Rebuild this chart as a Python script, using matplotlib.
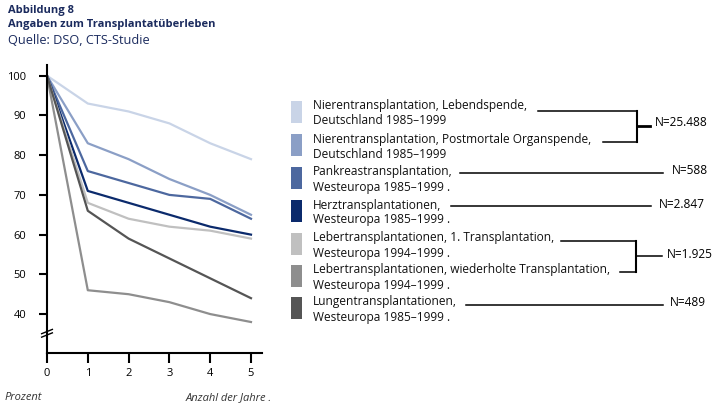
import matplotlib
matplotlib.use("Agg")
import matplotlib.pyplot as plt
import numpy as np

plt.rcParams['font.family'] = ['Open Sans', 'DejaVu Sans']

years = [0, 1, 2, 3, 4, 5]
niere_lebend = [100, 93, 91, 88, 83, 79]
niere_postmortal = [100, 83, 79, 74, 70, 65]
pankreas = [100, 76, 73, 70, 69, 64]
herz = [100, 71, 68, 65, 62, 60]
leber_erst = [100, 68, 64, 62, 61, 59]
leber_wiederholt = [100, 46, 45, 43, 40, 38]
lunge = [100, 66, 59, 54, 49, 44]

series = [niere_lebend, niere_postmortal, pankreas, herz, leber_erst, leber_wiederholt, lunge]
colors = ['#c9d4e7', '#8b9fc6', '#4d689f', '#0b2a6c', '#c0c0c0', '#8e8e8e', '#555555']
labels = [
    ("Nierentransplantation, Lebendspende,", "Deutschland 1985–1999"),
    ("Nierentransplantation, Postmortale Organspende,", "Deutschland 1985–1999"),
    ("Pankreastransplantation,", "Westeuropa 1985–1999 ."),
    ("Herztransplantationen,", "Westeuropa 1985–1999 ."),
    ("Lebertransplantationen, 1. Transplantation,", "Westeuropa 1994–1999 ."),
    ("Lebertransplantationen, wiederholte Transplantation,", "Westeuropa 1994–1999 ."),
    ("Lungentransplantationen,", "Westeuropa 1985–1999 ."),
]
yticks = [40, 50, 60, 70, 80, 90, 100]

W, H = 716, 407
fig = plt.figure(figsize=(W / 100, H / 100), dpi=100)
ax = fig.add_axes([47 / W, (H - 353) / H, (262 - 47) / W, (353 - 65) / H])
for s, c in zip(series, colors):
    ax.plot(years, s, color=c, lw=1.6, solid_joinstyle='round')
ax.set_xlim(0, 5.27)
ax.set_ylim(30.2, 102.7)
ax.spines['top'].set_visible(False)
ax.spines['right'].set_visible(False)
ax.spines['left'].set_linewidth(1.5)
ax.spines['bottom'].set_linewidth(1.5)
ax.set_xticks(years)
ax.set_yticks(yticks)
ax.tick_params(axis='x', length=7, width=1.5, labelsize=8, pad=4)
ax.tick_params(axis='y', length=6, width=1.5, labelsize=8, pad=9)
# axis break
for dy in (0, 0.012):
    ax.plot([-0.025, 0.025], [0.055 + dy, 0.07 + dy], transform=ax.transAxes,
            color='black', lw=1, clip_on=False)

# overlay in pixel coordinates for text and legend
ov = fig.add_axes([0, 0, 1, 1])
ov.set_xlim(0, W)
ov.set_ylim(H, 0)
ov.axis('off')

navy = '#1b2b5e'
ov.text(8, 10, "Abbildung 8", fontsize=8, fontweight='bold', color=navy, va='center')
ov.text(8, 25, "Angaben zum Transplantatüberleben", fontsize=8, fontweight='bold', color=navy, va='center')
ov.text(8, 41, "Quelle: DSO, CTS-Studie", fontsize=9.2, color=navy, va='center')
ov.text(5, 398, "Prozent", fontsize=8, style='italic', color='#333333', va='center')
ov.text(272, 398, "Anzahl der Jahre .", fontsize=8, style='italic', color='#333333', va='center', ha='right')

fs = 8.6
row_y = [106, 139, 172, 205, 238, 270, 302]
for (l1, l2), c, y in zip(labels, colors, row_y):
    ov.add_patch(plt.Rectangle((291, y - 5), 11, 22, color=c, lw=0))
    ov.text(313, y, l1, fontsize=fs, va='center', color='#111111')
    ov.text(313, y + 15, l2, fontsize=fs, va='center', color='#111111')

lk = dict(color='black', lw=1.1)
# Niere bracket
ov.plot([538, 637], [111, 111], **lk)
ov.plot([603, 637], [142, 142], **lk)
ov.plot([637, 637], [111, 142], color='black', lw=1.5)
ov.plot([637, 650], [126, 126], color='black', lw=2)
ov.text(655, 122, "N=25.488", fontsize=fs, va='center')
# Pankreas
ov.plot([460, 663], [173, 173], **lk)
ov.text(672, 171, "N=588", fontsize=fs, va='center')
# Herz
ov.plot([451, 651], [206, 206], **lk)
ov.text(659, 204, "N=2.847", fontsize=fs, va='center')
# Leber bracket
ov.plot([561, 636], [241, 241], **lk)
ov.plot([620, 636], [272, 272], **lk)
ov.plot([636, 636], [241, 272], color='black', lw=1.5)
ov.plot([636, 662], [256, 256], **lk)
ov.text(667, 254, "N=1.925", fontsize=fs, va='center')
# Lunge
ov.plot([466, 663], [305, 305], **lk)
ov.text(670, 302, "N=489", fontsize=fs, va='center')

fig.savefig("out.png", dpi=100)
